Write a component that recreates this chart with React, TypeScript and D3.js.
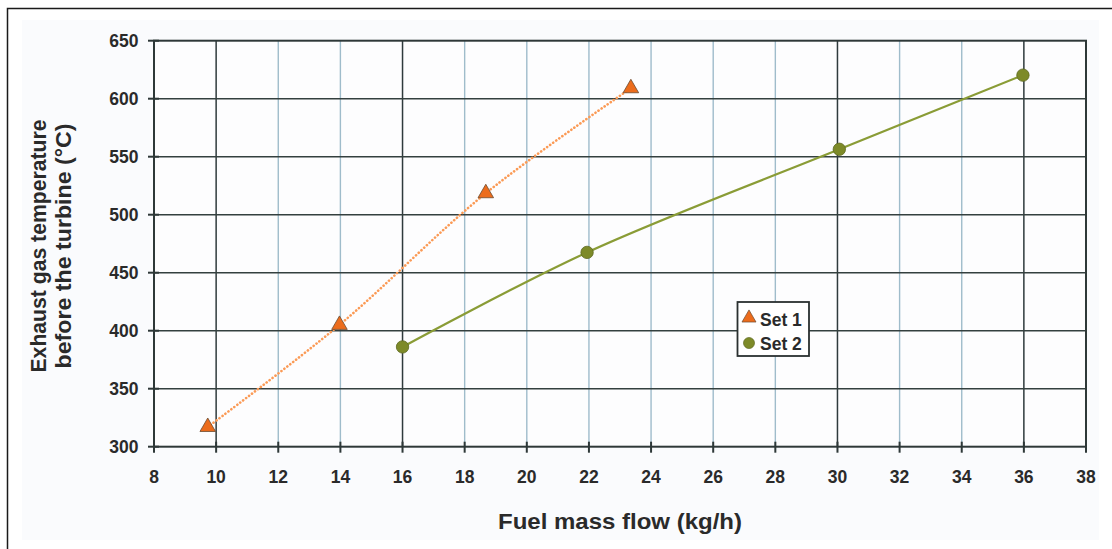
import React from "react";
import * as d3 from "d3";

const W = 1112;
const H = 549;

const xTicks = [8, 10, 12, 14, 16, 18, 20, 22, 24, 26, 28, 30, 32, 34, 36, 38];
const yTicks = [300, 350, 400, 450, 500, 550, 600, 650];
const darkVerticals = [10, 16, 30, 36];

const set1X = [9.73, 13.97, 18.68, 23.35];
const set1Y = [317, 405, 518.5, 609];
const set2X = [16.0, 21.94, 30.06, 35.97];
const set2Y = [386, 467.5, 556.4, 620.3];

const seriesNames = ["Set 1", "Set 2"];

const xTitle = "Fuel mass flow (kg/h)";
const yTitle1 = "Exhaust gas temperature";
const yTitle2 = "before the turbine (°C)";

const FONT = "'Liberation Sans', Arial, sans-serif";

export default function App() {
  const left = 154;
  const right = 1086;
  const top = 40.7;
  const bottom = 446.7;

  const x = d3.scaleLinear().domain([8, 38]).range([left, right]);
  const y = d3.scaleLinear().domain([300, 650]).range([bottom, top]);

  const line = d3
    .line<[number, number]>()
    .x((d) => x(d[0]))
    .y((d) => y(d[1]))
    .curve(d3.curveCatmullRom.alpha(0.5));

  const s1: [number, number][] = set1X.map((v, i) => [v, set1Y[i]]);
  const s2: [number, number][] = set2X.map((v, i) => [v, set2Y[i]]);

  const tri = d3.symbol().type(d3.symbolTriangle).size(105)();
  const triLeg = d3.symbol().type(d3.symbolTriangle).size(85)();

  const axisColor = "#2e3838";
  const labelColor = "#2a2a2a";

  const legX = 737.5;
  const legY = 302;

  return (
    <svg
      width={W}
      height={H}
      style={{ position: "absolute", left: 0, top: 0, display: "block" }}
      fontFamily={FONT}
    >
      <rect x={0} y={0} width={W} height={H} fill="#ffffff" />
      <rect x={7.5} y={8.5} width={W + 20} height={H + 20} fill="#ffffff" stroke="#1a1a1a" strokeWidth={1.5} />
      <rect x={22} y={20} width={1077} height={520} fill="#fafbfd" />
      <rect x={left} y={top} width={right - left} height={bottom - top} fill="#fdfdfe" />

      {/* vertical grid */}
      {xTicks
        .filter((t) => t !== 8 && t !== 38)
        .map((t) => {
          const dark = darkVerticals.includes(t);
          return (
            <line
              key={"vx" + t}
              x1={x(t)}
              x2={x(t)}
              y1={top}
              y2={bottom}
              stroke={dark ? "#2f3a3c" : "#9fbccb"}
              strokeWidth={dark ? 1.5 : 1.4}
            />
          );
        })}
      {/* horizontal grid */}
      {yTicks
        .filter((t) => t !== 300 && t !== 650)
        .map((t) => (
          <line key={"hy" + t} x1={left} x2={right} y1={y(t)} y2={y(t)} stroke="#34403f" strokeWidth={1.4} />
        ))}

      {/* plot frame */}
      <rect x={left} y={top} width={right - left} height={bottom - top} fill="none" stroke={axisColor} strokeWidth={2} />

      {/* y ticks */}
      {yTicks.map((t) => (
        <g key={"yt" + t}>
          <line x1={left - 6} x2={left + 5} y1={y(t)} y2={y(t)} stroke={axisColor} strokeWidth={2} />
          <text x={138.5} y={y(t)} dy="0.36em" textAnchor="end" fontSize={17.5} fontWeight="bold" fill={labelColor}>
            {t}
          </text>
        </g>
      ))}
      {/* x ticks */}
      {xTicks.map((t) => (
        <g key={"xt" + t}>
          <line x1={x(t)} x2={x(t)} y1={bottom - 5} y2={bottom + 6} stroke={axisColor} strokeWidth={2} />
          <text x={x(t)} y={482.5} textAnchor="middle" fontSize={17.5} fontWeight="bold" fill={labelColor}>
            {t}
          </text>
        </g>
      ))}

      {/* series lines */}
      <path
        d={line(s1) || ""}
        fill="none"
        stroke="#fb9a55"
        strokeWidth={2.6}
        strokeDasharray="0.1 3.6"
        strokeLinecap="round"
      />
      <path d={line(s2) || ""} fill="none" stroke="#8a9c36" strokeWidth={2.2} />

      {/* markers */}
      {s1.map((d, i) => (
        <path
          key={"m1" + i}
          d={tri || ""}
          transform={`translate(${x(d[0])},${y(d[1])})`}
          fill="#ec6c1c"
          stroke="#6b4a30"
          strokeWidth={0.8}
        />
      ))}
      {s2.map((d, i) => (
        <circle key={"m2" + i} cx={x(d[0])} cy={y(d[1])} r={6.2} fill="#7d8a28" stroke="#5e6a22" strokeWidth={0.8} />
      ))}

      {/* legend */}
      <rect x={legX} y={legY} width={71.5} height={54} fill="#ffffff" stroke="#2a3030" strokeWidth={1.8} />
      <path d={triLeg || ""} transform={`translate(${legX + 11.5},${legY + 16})`} fill="#ec6c1c" stroke="#6b4a30" strokeWidth={0.7} />
      <text x={legX + 22.5} y={legY + 23.5} fontSize={17.5} fontWeight="bold" fill={labelColor}>
        {seriesNames[0]}
      </text>
      <circle cx={legX + 11.5} cy={legY + 41} r={5.5} fill="#7d8a28" stroke="#5e6a22" strokeWidth={0.7} />
      <text x={legX + 22.5} y={legY + 47.5} fontSize={17.5} fontWeight="bold" fill={labelColor}>
        {seriesNames[1]}
      </text>

      {/* axis titles */}
      <text
        x={620}
        y={529}
        textAnchor="middle"
        fontSize={22}
        fontWeight="bold"
        fill={labelColor}
        textLength={244}
        lengthAdjust="spacingAndGlyphs"
      >
        {xTitle}
      </text>
      <g transform={`translate(46,246)`}>
        <text
          transform="rotate(-90)"
          x={0}
          y={0}
          textAnchor="middle"
          fontSize={21.5}
          fontWeight="bold"
          fill={labelColor}
          textLength={253}
          lengthAdjust="spacingAndGlyphs"
        >
          {yTitle1}
        </text>
        <text
          transform="rotate(-90)"
          x={0}
          y={25}
          textAnchor="middle"
          fontSize={21.5}
          fontWeight="bold"
          fill={labelColor}
          textLength={245}
          lengthAdjust="spacingAndGlyphs"
        >
          {yTitle2}
        </text>
      </g>
    </svg>
  );
}
